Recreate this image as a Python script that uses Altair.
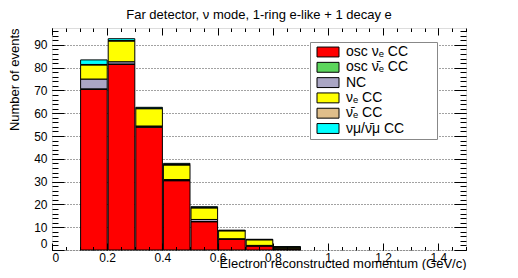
import altair as alt
import pandas as pd

# ---------------- data ----------------
title_text = "Far detector, \u03bd mode, 1-ring e-like + 1 decay e"
x_title = "Electron reconstructed momentum (GeV/c)"
y_title = "Number of events"

bin_low = [0.1, 0.2, 0.3, 0.4, 0.5, 0.6, 0.7, 0.8]
bin_high = [0.2, 0.3, 0.4, 0.5, 0.6, 0.7, 0.8, 0.9]

components = [
    "osc \u03bd\u2091 CC",
    "osc \u03bd\u0304\u2091 CC",
    "NC",
    "\u03bd\u2091 CC",
    "\u03bd\u0304\u2091 CC",
    "\u03bd\u03bc/\u03bd\u0304\u03bc CC",
]
colors = ["#ff0000", "#5cd65c", "#aaa6c4", "#ffff00", "#dfbe8a", "#00ffff"]

osc_nue = [70.5, 81.4, 53.9, 30.4, 12.4, 4.6, 1.8, 0.5]
osc_nuebar = [0.2, 0.2, 0.2, 0.1, 0.1, 0.05, 0.02, 0.0]
nc = [4.3, 1.0, 0.3, 0.4, 0.9, 0.3, 0.2, 0.1]
nue_cc = [6.2, 9.1, 7.6, 6.4, 5.1, 3.5, 2.5, 0.7]
nuebar_cc = [0.2, 0.2, 0.2, 0.2, 0.1, 0.05, 0.03, 0.02]
numu_cc = [2.0, 0.8, 0.4, 0.5, 0.4, 0.2, 0.15, 0.13]

x_major = [0, 0.2, 0.4, 0.6, 0.8, 1.0, 1.2, 1.4]
x_minor = [round(0.05 * i, 2) for i in range(31)]
y_major = [0, 10, 20, 30, 40, 50, 60, 70, 80, 90]
y_minor = [2 * i for i in range(49)]

series = [osc_nue, osc_nuebar, nc, nue_cc, nuebar_cc, numu_cc]
rows = []
for i, (lo, hi) in enumerate(zip(bin_low, bin_high)):
    for k, (name, vals) in enumerate(zip(components, series)):
        rows.append({"lo": lo, "hi": hi, "component": name, "k": k, "events": vals[i]})
df = pd.DataFrame(rows)

# ---------------- layout ----------------
W, H = 414, 222
FONT = "Liberation Sans"
xs = alt.Scale(domain=[0, 1.5], nice=False, zero=False)
ys = alt.Scale(domain=[0, 97.4], nice=False)

base = alt.Chart(df)

bars = base.mark_bar(stroke="black", strokeWidth=1, orient="vertical").encode(
    x=alt.X(
        "lo:Q", bin="binned", scale=xs,
        axis=alt.Axis(
            orient="bottom", values=x_major, format="~r", ticks=False, domain=False,
            grid=False, labelPadding=2, labelFont=FONT, labelFontSize=12, labelColor="black",
            title=x_title, titleFont=FONT, titleFontSize=13, titleFontWeight="normal",
            titleColor="black", titleX=W, titleY=17.5, titleAlign="right",
            titleBaseline="alphabetic", titleAnchor="end",
        ),
    ),
    x2="hi:Q",
    y=alt.Y(
        "events:Q", stack="zero", scale=ys,
        axis=alt.Axis(
            orient="left", values=y_major, format="d", ticks=False, domain=False,
            grid=True, gridDash=[1, 2], gridColor="#444444", gridWidth=1,
            labelPadding=5, labelFont=FONT, labelFontSize=12, labelColor="black",
            labelFlush=True, labelFlushOffset=0,
            title=y_title, titleFont=FONT, titleFontSize=13, titleFontWeight="normal",
            titleColor="black", titleX=-34, titleY=0, titleAngle=270, titleAlign="right",
            titleBaseline="alphabetic", titleAnchor="end",
        ),
    ),
    color=alt.Color(
        "component:N",
        scale=alt.Scale(domain=components, range=colors),
        legend=alt.Legend(
            title=None, orient="none", legendX=258, legendY=14,
            fillColor="white", strokeColor="#888888", padding=3,
            symbolType="M-2,-0.9H2V0.9H-2Z", symbolSize=121,
            symbolStrokeColor="black", symbolStrokeWidth=1, symbolOpacity=1,
            symbolOffset=8, labelOffset=11,
            labelFont=FONT, labelFontSize=14, labelColor="black", labelLimit=0,
            labelExpr="datum.label + '\u00a0\u00a0\u00a0\u00a0\u2800'",
            rowPadding=1.3,
        ),
    ),
    order=alt.Order("k:Q", sort="ascending"),
)


def tick_axis(orient, offset, values, size):
    return alt.Axis(
        orient=orient, offset=offset, values=values, tickSize=size, ticks=True,
        labels=False, domain=False, grid=False, title=None, tickColor="black",
        tickWidth=1, zindex=1,
    )


def tick_layer(x_axis, y_axis):
    return base.mark_point(opacity=0).encode(
        x=alt.X("lo:Q", scale=xs, axis=x_axis),
        y=alt.Y("events:Q", scale=ys, axis=y_axis),
    )


layers = [
    bars,
    tick_layer(tick_axis("top", -H, x_major, 7), tick_axis("right", -W, y_major, 12)),
    tick_layer(tick_axis("top", -H, x_minor, 3.5), tick_axis("right", -W, y_minor, 6)),
    tick_layer(tick_axis("bottom", -H, x_major, 7), tick_axis("left", -W, y_major, 12)),
    tick_layer(tick_axis("bottom", -H, x_minor, 3.5), tick_axis("left", -W, y_minor, 6)),
]

chart = (
    alt.layer(*layers)
    .resolve_axis(x="independent", y="independent")
    .properties(
        width=W, height=H,
        title=alt.TitleParams(
            title_text, font=FONT, fontSize=13, fontWeight="normal", color="black",
            anchor="middle", frame="group", offset=6,
        ),
        autosize=alt.AutoSizeParams(type="none"),
        padding={"left": 44, "top": 20, "right": 40, "bottom": 20},
    )
    .configure_view(stroke="black", strokeWidth=1)
    .configure(background="white")
)

chart.save("out.html", embed_options={"renderer": "svg", "actions": False})
